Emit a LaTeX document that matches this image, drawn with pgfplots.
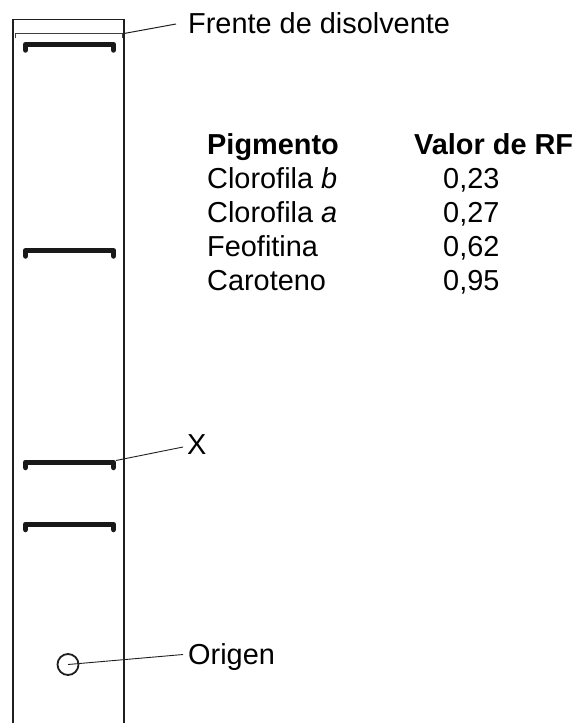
\documentclass[border=0pt]{standalone}
\usepackage{pgfplots}
\pgfplotsset{compat=1.18}
\usepackage{fontspec}
\setmainfont{Liberation Sans}

% chromatography strip, drawn in pixel coordinates (y down)
\begin{document}
\begin{tikzpicture}
\begin{axis}[
    scale only axis, width=576bp, height=723bp,
    xmin=0, xmax=576, ymin=0, ymax=723, y dir=reverse,
    hide axis, clip=false,
    every axis plot/.append style={no marks, color=black!88},
    band/.style={line width=5.5bp, line cap=round, line join=round, color=black!90},
]
% strip outline
\addplot[line width=1.1pt] coordinates {(13,723) (13,19.5) (124,19.5) (124,723)};
% solvent front
\addplot[line width=0.8pt, black!75] coordinates {(15,38) (15,33.5) (122.5,33.5) (122.5,38)};
% bands
\addplot[band] coordinates {(25.5,50) (25.5,44.5) (113.5,44.5) (113.5,50)};
\addplot[band] coordinates {(25.5,256) (25.5,250.7) (113.5,250.7) (113.5,256)};
\addplot[band] coordinates {(25.5,467.5) (25.5,462.3) (113.5,462.3) (113.5,467.5)};
\addplot[band] coordinates {(25.5,529.5) (25.5,524.3) (113.5,524.3) (113.5,529.5)};
% origin spot
\addplot[only marks, mark=*, mark size=10.5bp, mark options={line width=1.8pt, draw=black!88, fill=white, fill opacity=0}] coordinates {(68,664.5)};
% leader lines
\addplot[line width=1pt] coordinates {(124,33.5) (176,24)};
\addplot[line width=0.9pt] coordinates {(116,460.5) (183,447)};
\addplot[line width=0.9pt] coordinates {(68,664.5) (183,654.5)};
% labels
\fontsize{29}{34}\selectfont
\node[anchor=base west, inner sep=0pt] at (axis cs:188,34) {Frente de disolvente};
\node[anchor=base west, inner sep=0pt] at (axis cs:187,454) {X};
\node[anchor=base west, inner sep=0pt] at (axis cs:188,664) {Origen};
% table
\node[anchor=base west, inner sep=0pt] at (axis cs:207,154) {\bfseries Pigmento};
\node[anchor=base west, inner sep=0pt] at (axis cs:414,154) {\bfseries Valor de RF};
\node[anchor=base west, inner sep=0pt] at (axis cs:207,188.5) {Clorofila \textit{b}};
\node[anchor=base west, inner sep=0pt] at (axis cs:207,222.5) {Clorofila \textit{a}};
\node[anchor=base west, inner sep=0pt] at (axis cs:207,256.5) {Feofitina};
\node[anchor=base west, inner sep=0pt] at (axis cs:207,290.5) {Caroteno};
\node[anchor=base west, inner sep=0pt] at (axis cs:443,188.5) {0,23};
\node[anchor=base west, inner sep=0pt] at (axis cs:443,222.5) {0,27};
\node[anchor=base west, inner sep=0pt] at (axis cs:443,256.5) {0,62};
\node[anchor=base west, inner sep=0pt] at (axis cs:443,290.5) {0,95};
\end{axis}
\pgfresetboundingbox
\useasboundingbox (0,0) rectangle (576bp,723bp);
\end{tikzpicture}
\end{document}
